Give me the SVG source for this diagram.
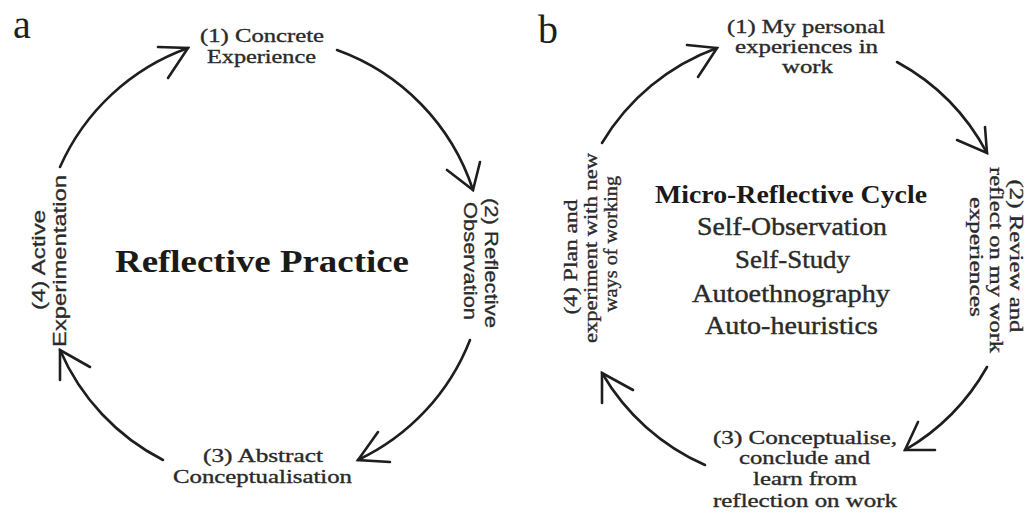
<svg xmlns="http://www.w3.org/2000/svg" width="1030" height="513" viewBox="0 0 1030 513">
  <style>
    .bg { fill: #ffffff; }
    .arc { fill: none; stroke: #1e1e1e; stroke-width: 2.6; stroke-linecap: round; }
    .head { fill: none; stroke: #1e1e1e; stroke-width: 2.6; stroke-linecap: round; stroke-linejoin: miter; }
    .panel { font-family: "Liberation Serif", "Times New Roman", serif; font-size: 40px; fill: #1e1e1e; }
    .lbl { font-family: "Liberation Serif", "DejaVu Serif", serif; font-size: 19px; fill: #2a2a2a; stroke: #2a2a2a; stroke-width: 0.35; text-anchor: middle; }
    .lbls { font-family: "Liberation Sans", "DejaVu Sans", sans-serif; font-size: 19px; fill: #2a2a2a; stroke: #2a2a2a; stroke-width: 0.3; text-anchor: middle; }
    .title { font-family: "Liberation Serif", "DejaVu Serif", serif; font-size: 32px; font-weight: bold; fill: #1a1a1a; text-anchor: middle; }
    .ctitle { font-family: "Liberation Serif", "DejaVu Serif", serif; font-size: 26px; font-weight: bold; fill: #1a1a1a; text-anchor: middle; }
    .citem { font-family: "Liberation Serif", "DejaVu Serif", serif; font-size: 26px; fill: #2a2a2a; stroke: #2a2a2a; stroke-width: 0.4; text-anchor: middle; }
  </style>
  <rect class="bg" x="0" y="0" width="1030" height="513"/>

  <!-- Panel a: Reflective Practice cycle -->
  <g id="panel-a">
    <text id="a-letter" class="panel" x="13" y="38">a</text>

    <g id="a-node1">
      <text class="lbl" x="262" y="42" textLength="124" lengthAdjust="spacingAndGlyphs">(1) Concrete</text>
      <text class="lbl" x="261.5" y="63" textLength="109" lengthAdjust="spacingAndGlyphs">Experience</text>
    </g>
    <g id="a-node2">
      <text class="lbls" transform="translate(485,263) rotate(90)" textLength="130" lengthAdjust="spacingAndGlyphs">(2) Reflective</text>
      <text class="lbls" transform="translate(464,261) rotate(90)" textLength="118" lengthAdjust="spacingAndGlyphs">Observation</text>
    </g>
    <g id="a-node3">
      <text class="lbl" x="263" y="462" textLength="120" lengthAdjust="spacingAndGlyphs">(3) Abstract</text>
      <text class="lbl" x="262.5" y="483" textLength="179" lengthAdjust="spacingAndGlyphs">Conceptualisation</text>
    </g>
    <g id="a-node4">
      <text class="lbls" transform="translate(45,260) rotate(-90)" textLength="100" lengthAdjust="spacingAndGlyphs">(4) Active</text>
      <text class="lbls" transform="translate(66,261) rotate(-90)" textLength="172" lengthAdjust="spacingAndGlyphs">Experimentation</text>
    </g>
    <g id="a-center">
      <text class="title" x="262" y="272" textLength="294" lengthAdjust="spacingAndGlyphs">Reflective Practice</text>
    </g>

    <g id="a-connectors">
      <path class="arc" d="M60,167 A222,222 0 0,1 188,48"/>
      <path class="head" d="M158,47 L188,48 L168,78"/>
      <path class="arc" d="M337,50 A222,222 0 0,1 473,190"/>
      <path class="head" d="M447,170 L473,190 L480,162"/>
      <path class="arc" d="M470,340 A222,222 0 0,1 358,460"/>
      <path class="head" d="M378,432 L358,460 L390,462"/>
      <path class="arc" d="M163,460 A222,222 0 0,1 60,350"/>
      <path class="head" d="M90,367 L60,350 L60,380"/>
    </g>
  </g>

  <!-- Panel b: Micro-Reflective Cycle -->
  <g id="panel-b">
    <text id="b-letter" class="panel" x="538" y="43">b</text>

    <g id="b-node1">
      <text class="lbl" x="806" y="33" textLength="158" lengthAdjust="spacingAndGlyphs">(1) My personal</text>
      <text class="lbl" x="806.5" y="53" textLength="143" lengthAdjust="spacingAndGlyphs">experiences in</text>
      <text class="lbl" x="807.5" y="73" textLength="51" lengthAdjust="spacingAndGlyphs">work</text>
    </g>
    <g id="b-node2">
      <text class="lbl" transform="translate(1010,256) rotate(90)" textLength="153" lengthAdjust="spacingAndGlyphs">(2) Review and</text>
      <text class="lbl" transform="translate(990,260) rotate(90)" textLength="186" lengthAdjust="spacingAndGlyphs">reflect on my work</text>
      <text class="lbl" transform="translate(970,257) rotate(90)" textLength="120" lengthAdjust="spacingAndGlyphs">experiences</text>
    </g>
    <g id="b-node3">
      <text class="lbl" x="805" y="444" textLength="184" lengthAdjust="spacingAndGlyphs">(3) Conceptualise,</text>
      <text class="lbl" x="804.5" y="464" textLength="131" lengthAdjust="spacingAndGlyphs">conclude and</text>
      <text class="lbl" x="805" y="485" textLength="104" lengthAdjust="spacingAndGlyphs">learn from</text>
      <text class="lbl" x="805" y="507" textLength="184" lengthAdjust="spacingAndGlyphs">reflection on work</text>
    </g>
    <g id="b-node4">
      <text class="lbl" transform="translate(577,257) rotate(-90)" textLength="115" lengthAdjust="spacingAndGlyphs">(4) Plan and</text>
      <text class="lbl" transform="translate(597,248) rotate(-90)" textLength="190" lengthAdjust="spacingAndGlyphs">experiment with new</text>
      <text class="lbl" transform="translate(617,244) rotate(-90)" textLength="136" lengthAdjust="spacingAndGlyphs">ways of working</text>
    </g>
    <g id="b-center">
      <text class="ctitle" x="791" y="203" textLength="272" lengthAdjust="spacingAndGlyphs">Micro-Reflective Cycle</text>
      <text class="citem" x="792" y="235" textLength="190" lengthAdjust="spacingAndGlyphs">Self-Observation</text>
      <text class="citem" x="792.5" y="268" textLength="115" lengthAdjust="spacingAndGlyphs">Self-Study</text>
      <text class="citem" x="791" y="302" textLength="198" lengthAdjust="spacingAndGlyphs">Autoethnography</text>
      <text class="citem" x="791.5" y="334" textLength="173" lengthAdjust="spacingAndGlyphs">Auto-heuristics</text>
    </g>

    <g id="b-connectors">
      <path class="arc" d="M602,143 A222,222 0 0,1 717,48"/>
      <path class="head" d="M687,45 L717,48 L698,77"/>
      <path class="arc" d="M897,62 A222,222 0 0,1 987,153"/>
      <path class="head" d="M957,140 L987,153 L985,127"/>
      <path class="arc" d="M987,367 A222,222 0 0,1 905,450"/>
      <path class="head" d="M918,422 L905,450 L935,450"/>
      <path class="arc" d="M705,465 A222,222 0 0,1 602,373"/>
      <path class="head" d="M633,390 L602,373 L602,403"/>
    </g>
  </g>
</svg>
